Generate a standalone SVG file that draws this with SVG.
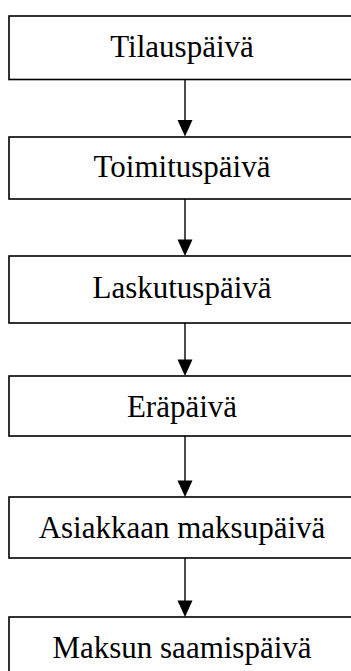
<svg xmlns="http://www.w3.org/2000/svg" width="351" height="671" viewBox="0 0 351 671">
<style>
.box{fill:#fff;stroke:#000;stroke-width:1.6}
.lbl{font-family:"Liberation Serif","Times New Roman",serif;font-size:31px;fill:#000;text-anchor:middle}
.con{stroke:#000;stroke-width:1.4;fill:none}
.head{fill:#000}
</style>
<rect width="351" height="671" fill="#fff"/>
<g id="n1"><rect class="box" x="9" y="16" width="352" height="63.5"/><text class="lbl" x="182" y="56.5">Tilauspäivä</text></g>
<g id="n2"><rect class="box" x="9" y="137" width="352" height="62"/><text class="lbl" x="182" y="176.5">Toimituspäivä</text></g>
<g id="n3"><rect class="box" x="9" y="256" width="352" height="67"/><text class="lbl" x="182" y="297.5">Laskutuspäivä</text></g>
<g id="n4"><rect class="box" x="9" y="376" width="352" height="60"/><text class="lbl" x="182" y="417">Eräpäivä</text></g>
<g id="n5"><rect class="box" x="9" y="497" width="352" height="61"/><text class="lbl" x="182" y="538">Asiakkaan maksupäivä</text></g>
<g id="n6"><rect class="box" x="9" y="617" width="352" height="70"/><text class="lbl" x="182" y="658">Maksun saamispäivä</text></g>
<g id="connectors">
<line class="con" x1="185" y1="79.5" x2="185" y2="121"/><path class="head" d="M177.5,120 L192.5,120 L185,136.5 Z"/>
<line class="con" x1="185" y1="199" x2="185" y2="240"/><path class="head" d="M177.5,239.5 L192.5,239.5 L185,256 Z"/>
<line class="con" x1="185" y1="323" x2="185" y2="360"/><path class="head" d="M177.5,359.5 L192.5,359.5 L185,376 Z"/>
<line class="con" x1="185" y1="436" x2="185" y2="481"/><path class="head" d="M177.5,480.5 L192.5,480.5 L185,497 Z"/>
<line class="con" x1="185" y1="558" x2="185" y2="601"/><path class="head" d="M177.5,600.5 L192.5,600.5 L185,617 Z"/>
</g>
</svg>
